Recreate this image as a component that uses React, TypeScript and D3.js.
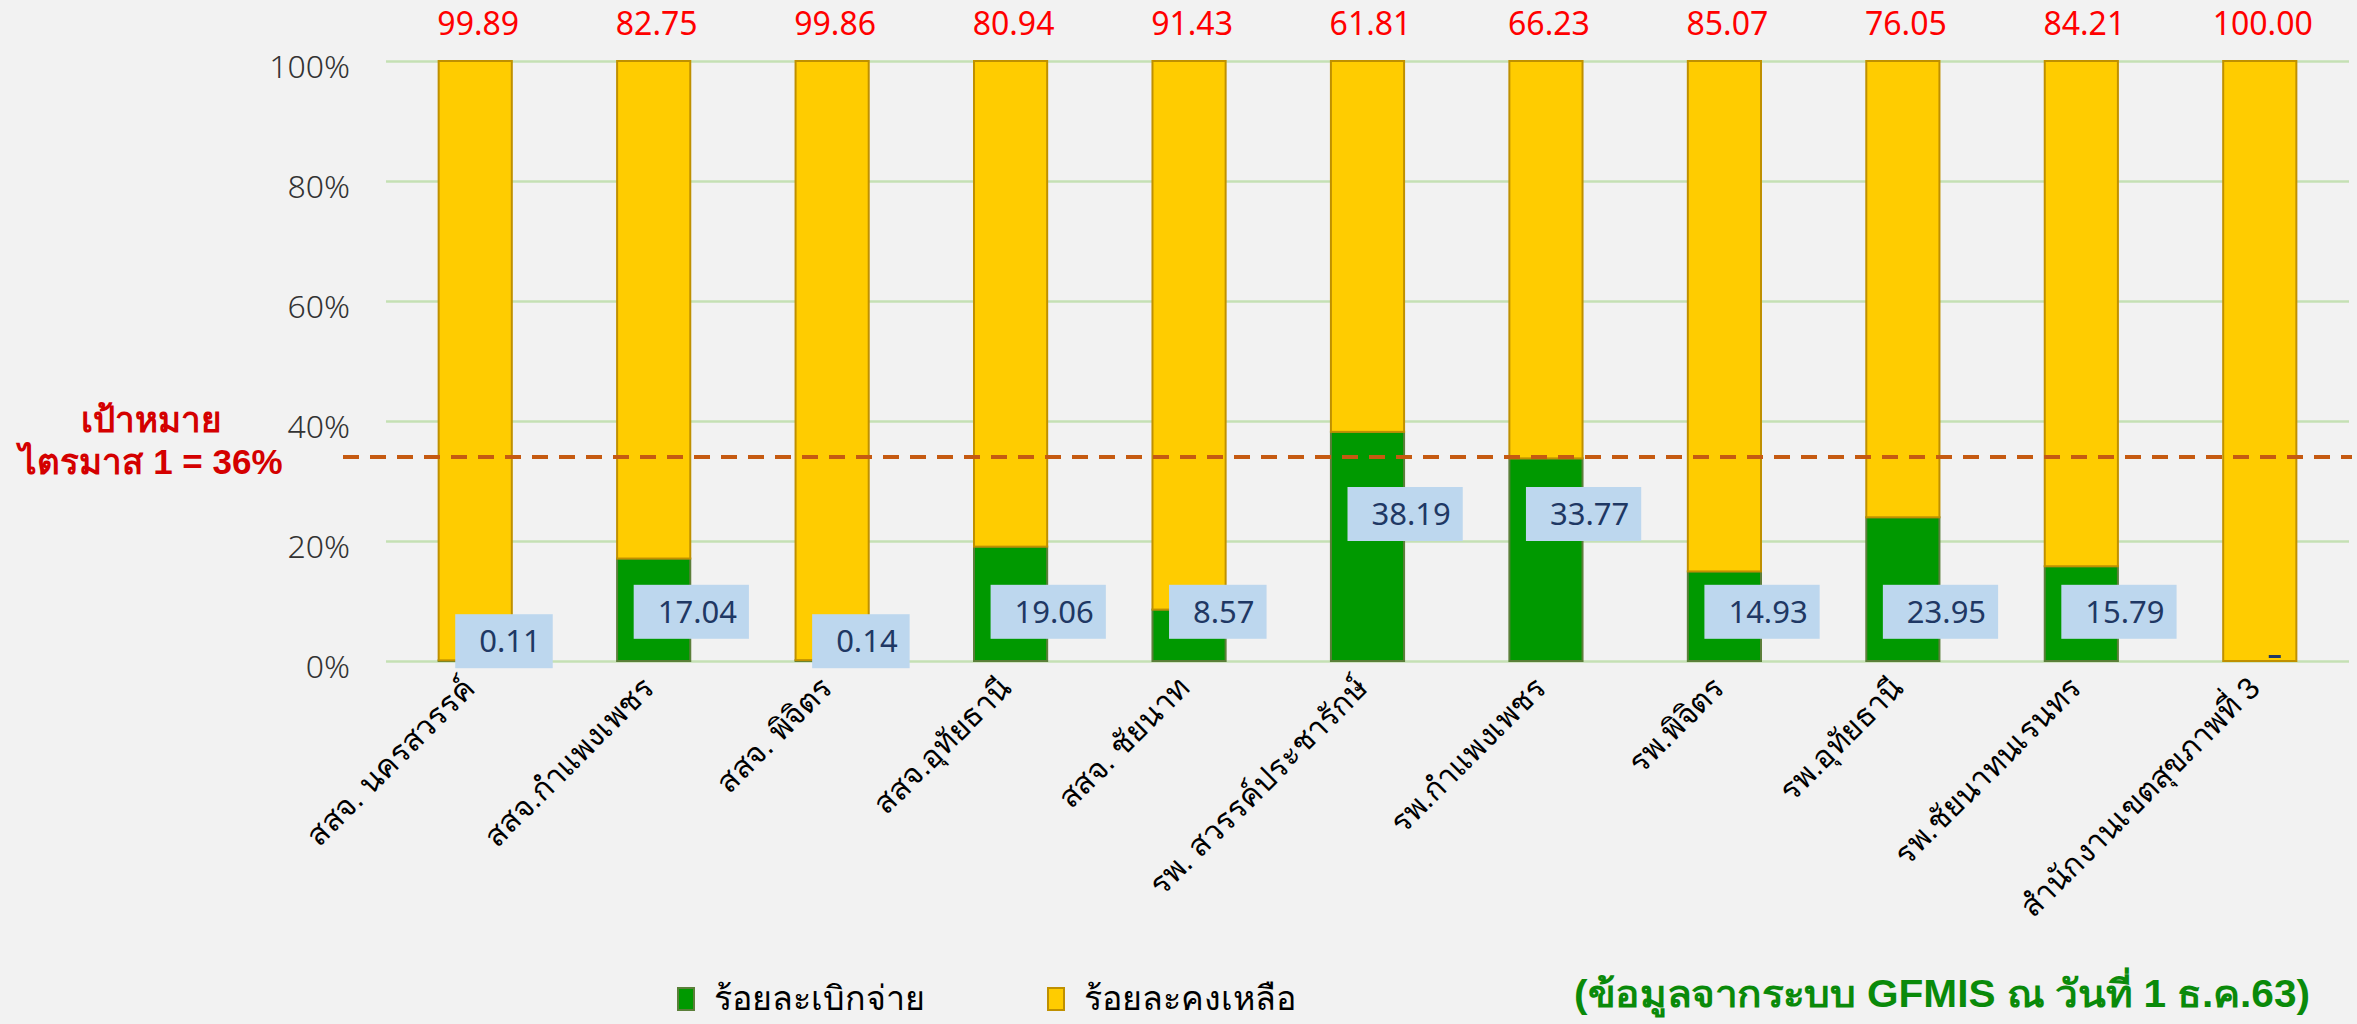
import React, { useEffect, useRef } from "react";
import * as d3 from "d3";

const categories = [
  "สสจ. นครสวรรค์",
  "สสจ.กำแพงเพชร",
  "สสจ. พิจิตร",
  "สสจ.อุทัยธานี",
  "สสจ. ชัยนาท",
  "รพ. สวรรค์ประชารักษ์",
  "รพ.กำแพงเพชร",
  "รพ.พิจิตร",
  "รพ.อุทัยธานี",
  "รพ.ชัยนาทนเรนทร",
  "สำนักงานเขตสุขภาพที่ 3",
];

// ร้อยละเบิกจ่าย
const paidPct = [0.11, 17.04, 0.14, 19.06, 8.57, 38.19, 33.77, 14.93, 23.95, 15.79, 0];
// ร้อยละคงเหลือ
const remainPct = [99.89, 82.75, 99.86, 80.94, 91.43, 61.81, 66.23, 85.07, 76.05, 84.21, 100.0];

const seriesNames = ["ร้อยละเบิกจ่าย", "ร้อยละคงเหลือ"];
const yTicks = [0, 0.2, 0.4, 0.6, 0.8, 1];
const targetLine = 0.34;
const targetText = ["เป้าหมาย", "ไตรมาส 1 = 36%"];
const sourceNote = "(ข้อมูลจากระบบ GFMIS ณ วันที่ 1 ธ.ค.63)";

const App = () => {
  const width = 2357;
  const height = 1024;
  const svgRef = useRef(null);

  useEffect(() => {
    const svg = d3.select(svgRef.current);
    svg.selectAll("*").remove();

    const numFont = "'Noto Sans', 'DejaVu Sans', sans-serif";

    svg.append("rect").attr("width", width).attr("height", height).attr("fill", "#f2f2f2");

    const x = d3.scaleBand()
      .domain(categories)
      .range([386, 2349])
      .paddingInner(0.59)
      .paddingOuter(0.295);

    const y = d3.scaleLinear().domain([0, 1]).range([661, 61]);

    // gridlines + y labels
    const yAxis = svg.append("g")
      .attr("transform", "translate(386,0)")
      .call(
        d3.axisLeft(y)
          .tickValues(yTicks)
          .tickFormat(d3.format(".0%"))
          .tickSize(-(2349 - 386))
          .tickPadding(36)
      );
    yAxis.select(".domain").remove();
    yAxis.selectAll("line").attr("stroke", "#c5e0b4").attr("stroke-width", 2.5);
    yAxis.selectAll("text")
      .attr("fill", "#333")
      .attr("font-family", numFont)
      .attr("font-size", 32)
      .attr("font-weight", 300)
      .attr("dy", "0.5em");

    // stacked 100% bars
    const rows = categories.map((c, i) => ({ cat: c, paid: paidPct[i], remain: remainPct[i] }));
    const stacked = d3.stack().keys(["paid", "remain"]).offset(d3.stackOffsetExpand)(rows);
    const fills = ["#009900", "#ffcc00"];
    const strokes = ["#5b7f3a", "#bf9000"];

    svg.selectAll("g.series")
      .data(stacked)
      .join("g")
      .attr("class", "series")
      .attr("fill", (d, i) => fills[i])
      .attr("stroke", (d, i) => strokes[i])
      .attr("stroke-width", 2)
      .selectAll("rect")
      .data((d) => d.filter((p) => p[1] - p[0] > 0))
      .join("rect")
      .attr("x", (d) => x(d.data.cat))
      .attr("y", (d) => y(d[1]))
      .attr("width", x.bandwidth())
      .attr("height", (d) => y(d[0]) - y(d[1]));

    // target dashed line
    svg.append("line")
      .attr("x1", 343)
      .attr("x2", 2352)
      .attr("y1", y(targetLine))
      .attr("y2", y(targetLine))
      .attr("stroke", "#c55a11")
      .attr("stroke-width", 4)
      .attr("stroke-dasharray", "16 11");

    // remaining labels on top (red)
    svg.append("g")
      .selectAll("text")
      .data(rows)
      .join("text")
      .attr("x", (d) => x(d.cat) + x.bandwidth() / 2 + 3)
      .attr("y", 35)
      .attr("text-anchor", "middle")
      .attr("font-family", numFont)
      .attr("font-size", 32)
      .attr("fill", "#ff0000")
      .text((d) => d.remain.toFixed(2));

    // paid labels in boxes
    const level = (v) => (v >= 30 ? 0.245 : v >= 5 ? 0.082 : 0.033);
    const lab = svg.append("g");
    rows.forEach((d) => {
      const cx = x(d.cat) + x.bandwidth() / 2;
      if (d.paid === 0) {
        lab.append("rect")
          .attr("x", cx + 9)
          .attr("y", 655)
          .attr("width", 12)
          .attr("height", 3)
          .attr("fill", "#1f3864");
        return;
      }
      const cy = y(level(d.paid));
      const g = lab.append("g");
      const box = g.append("rect");
      const t = g.append("text")
        .attr("x", cx - 20 + 24)
        .attr("y", cy + 11)
        .attr("font-family", numFont)
        .attr("font-size", 31)
        .attr("fill", "#1f3864")
        .text(d.paid.toFixed(2));
      const tw = t.node().getComputedTextLength();
      box.attr("x", cx - 20)
        .attr("y", cy - 27)
        .attr("width", tw + 36)
        .attr("height", 54)
        .attr("fill", "#bdd7ee");
    });

    // x labels
    svg.append("g")
      .selectAll("text")
      .data(categories)
      .join("text")
      .attr("transform", (d) => `translate(${x(d) + x.bandwidth() / 2 + 2},${690}) rotate(-45)`)
      .attr("text-anchor", "end")
      .attr("font-size", 31)
      .attr("font-family", "sans-serif")
      .attr("fill", "#000")
      .text((d) => d);

    // target annotation
    svg.append("g")
      .selectAll("text")
      .data(targetText)
      .join("text")
      .attr("x", 151)
      .attr("y", (d, i) => 432 + i * 42)
      .attr("text-anchor", "middle")
      .attr("font-size", 35)
      .attr("font-weight", "bold")
      .attr("font-family", "sans-serif")
      .attr("fill", "#d40000")
      .text((d) => d);

    // legend
    const legendX = [678, 1048];
    const lg = svg.append("g");
    seriesNames.forEach((name, i) => {
      lg.append("rect")
        .attr("x", legendX[i])
        .attr("y", 988)
        .attr("width", 16)
        .attr("height", 22)
        .attr("fill", fills[i])
        .attr("stroke", strokes[i])
        .attr("stroke-width", 2);
      lg.append("text")
        .attr("x", legendX[i] + 36)
        .attr("y", 1010)
        .attr("font-size", 34)
        .attr("font-family", "sans-serif")
        .attr("fill", "#000")
        .text(name);
    });

    // source note
    svg.append("text")
      .attr("x", 2310)
      .attr("y", 1007)
      .attr("text-anchor", "end")
      .attr("font-size", 38)
      .attr("font-weight", "bold")
      .attr("font-family", "sans-serif")
      .attr("fill", "#0a8a0a")
      .attr("textLength", 736)
      .attr("lengthAdjust", "spacingAndGlyphs")
      .text(sourceNote);
  }, []);

  return (
    <svg
      ref={svgRef}
      width={width}
      height={height}
      style={{ position: "absolute", left: 0, top: 0, display: "block" }}
    ></svg>
  );
};

export default App;
